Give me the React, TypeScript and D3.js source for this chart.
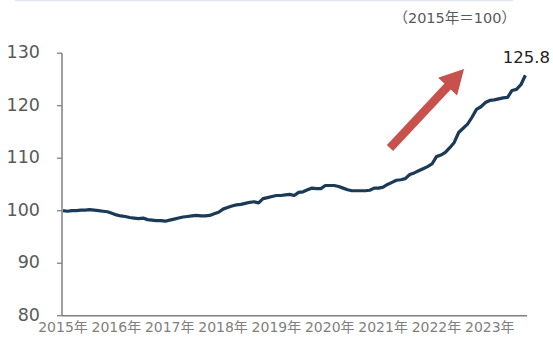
import React from "react";
import * as d3 from "d3";

const years = ["2015年", "2016年", "2017年", "2018年", "2019年", "2020年", "2021年", "2022年", "2023年"];
const yTicks = [80, 90, 100, 110, 120, 130];

const v2015 = [100.0, 99.9, 100.0, 100.0, 100.1, 100.1, 100.2, 100.1, 100.0, 99.9, 99.8, 99.5];
const v2016 = [99.2, 99.0, 98.9, 98.7, 98.6, 98.5, 98.6, 98.3, 98.2, 98.1, 98.1, 98.0];
const v2017 = [98.2, 98.4, 98.6, 98.8, 98.9, 99.0, 99.1, 99.0, 99.0, 99.1, 99.4, 99.7];
const v2018 = [100.3, 100.6, 100.9, 101.1, 101.2, 101.4, 101.6, 101.7, 101.5, 102.3, 102.5, 102.7];
const v2019 = [102.9, 102.9, 103.0, 103.1, 102.9, 103.5, 103.6, 104.0, 104.3, 104.2, 104.2, 104.8];
const v2020 = [104.8, 104.8, 104.6, 104.3, 104.0, 103.8, 103.8, 103.8, 103.8, 103.9, 104.3, 104.3];
const v2021 = [104.5, 105.0, 105.4, 105.8, 105.9, 106.1, 106.9, 107.2, 107.6, 108.0, 108.4, 108.9];
const v2022 = [110.3, 110.6, 111.1, 112.0, 113.0, 114.9, 115.7, 116.5, 117.8, 119.3, 119.8, 120.6];
const v2023 = [121.0, 121.1, 121.3, 121.5, 121.6, 122.9, 123.1, 124.0, 125.8];

const values = [...v2015, ...v2016, ...v2017, ...v2018, ...v2019, ...v2020, ...v2021, ...v2022, ...v2023];
const lastLabel = "125.8";
const unitLabel = "（2015年＝100）";

export default function App() {
  const W = 553, H = 339;
  const x0 = 63, monthPx = 53.35 / 12;
  const x = d3.scaleLinear().domain([0, 1]).range([x0, x0 + monthPx]);
  const y = d3.scaleLinear().domain([80, 130]).range([315.7, 53.2]);
  const line = d3.line<number>().x((_, i) => x(i)).y((d) => y(d)).curve(d3.curveLinear);
  const font = "'DejaVu Sans', Verdana, 'Noto Sans CJK JP', sans-serif";
  const gray = "#808080";
  const lastI = values.length - 1;

  // arrow geometry
  const ax1 = 390, ay1 = 148, ax2 = 464, ay2 = 69;
  const ang = Math.atan2(ay2 - ay1, ax2 - ax1);
  const len = Math.hypot(ax2 - ax1, ay2 - ay1);
  const headL = 24, headW = 26, shaftW = 8.5;
  const arrowPts: [number, number][] = [
    [0, -shaftW / 2], [len - headL, -shaftW / 2], [len - headL, -headW / 2], [len, 0],
    [len - headL, headW / 2], [len - headL, shaftW / 2], [0, shaftW / 2],
  ];
  const pts = arrowPts.map(([u, v]) => [ax1 + u * Math.cos(ang) - v * Math.sin(ang), ay1 + u * Math.sin(ang) + v * Math.cos(ang)]);

  return (
    <svg width={W} height={H} style={{ position: "absolute", left: 0, top: 0, background: "#fff" }}>
      <line x1={15} x2={513} y1={0.5} y2={0.5} stroke="#dfe5ec" strokeWidth={1.5} />
      <text x={516} y={23} fontSize={14.5} fill="#595959" fontFamily={font} textAnchor="end">{unitLabel}</text>
      {yTicks.map((t) => (
        <g key={t}>
          <line x1={57} x2={62} y1={y(t)} y2={y(t)} stroke={gray} strokeWidth={1.3} />
          <text x={40} y={y(t) + 5} fontSize={17.5} fill="#595959" fontFamily={font} textAnchor="end">{t}</text>
        </g>
      ))}
      <line x1={62} x2={62} y1={y(130)} y2={y(80)} stroke={gray} strokeWidth={1.5} />
      <line x1={62} x2={527} y1={y(80)} y2={y(80)} stroke={gray} strokeWidth={1.5} />
      {years.map((yr, k) => (
        <text key={yr} x={x(k * 12)} y={332} fontSize={14} fill="#7f7f7f" fontFamily={font} textAnchor="middle">{yr}</text>
      ))}
      <path d={line(values) || ""} fill="none" stroke="#1b3a57" strokeWidth={3.2} strokeLinejoin="round" />
      <text x={x(lastI) + 1} y={63} fontSize={16.5} fill="#222" fontFamily={font} textAnchor="middle">{lastLabel}</text>
      <polygon points={pts.map((p) => p.join(",")).join(" ")} fill="#c8504d" />
    </svg>
  );
}
